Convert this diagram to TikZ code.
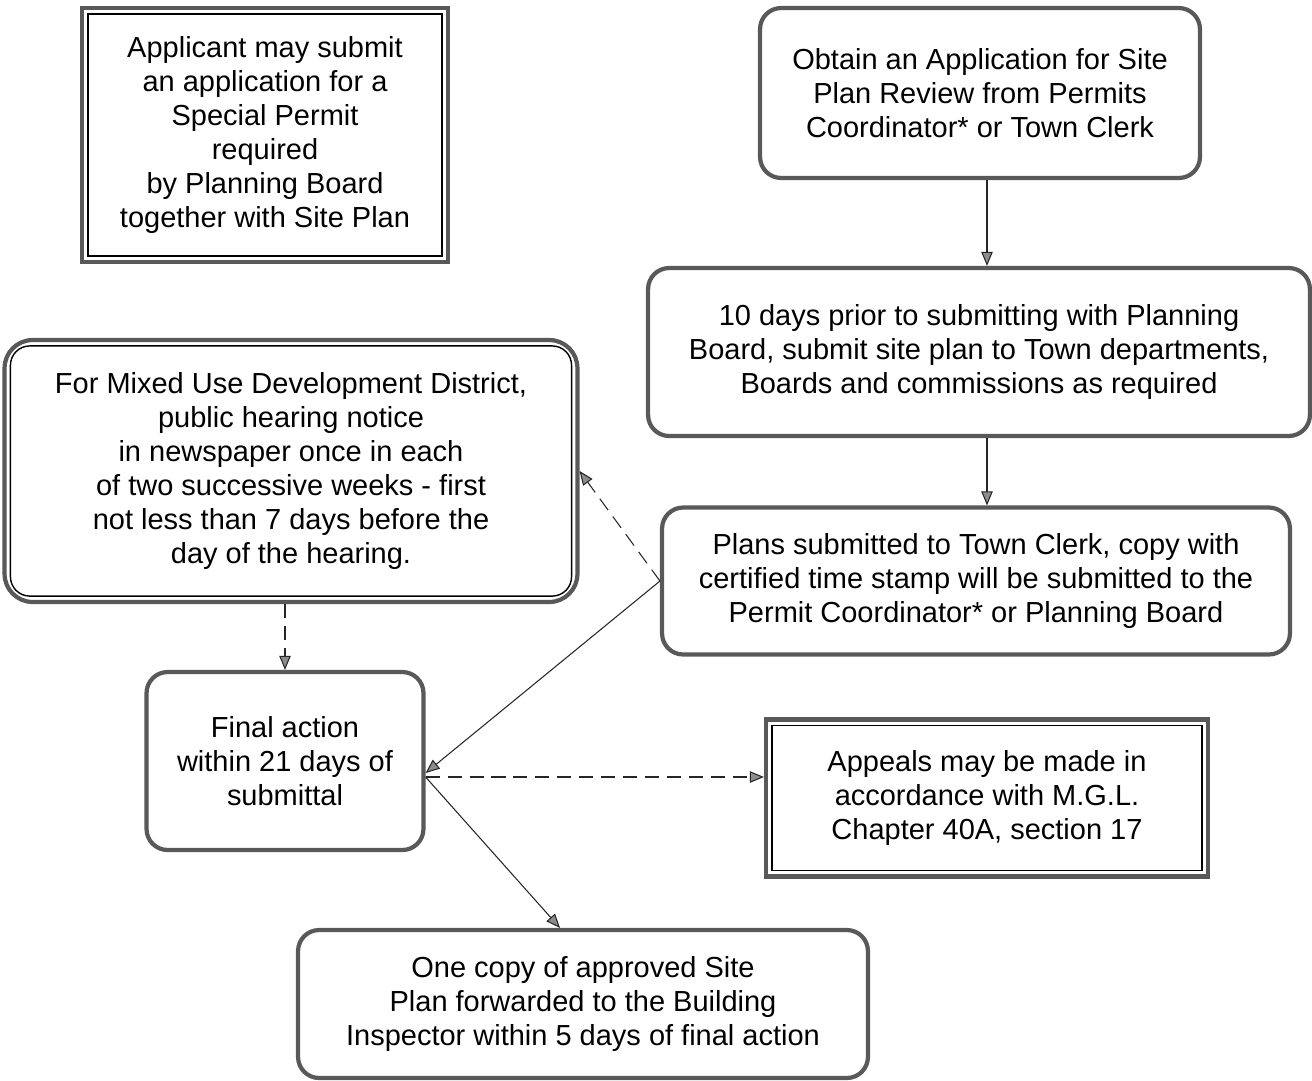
\documentclass[tikz,border=0pt]{standalone}
\usepackage{fontspec}
\setmainfont{Liberation Sans}
\usetikzlibrary{arrows.meta}

\begin{document}
\begin{tikzpicture}[x=0.02cm,y=-0.02cm]
	\tikzstyle{step_box}=[draw=black!65,line width=2.4pt,fill=white,rounded corners=12pt,align=center,inner sep=0pt,font=\fontsize{16.5}{19.3}\selectfont]
	\tikzstyle{note_box}=[step_box,sharp corners]
	\tikzstyle{inner_line}=[draw=black,line width=0.8pt]
	\tikzstyle{flow}=[-{Triangle[length=8pt,width=6.5pt,fill=black!45]},draw=black!85,line width=0.6pt]
	\tikzstyle{opt}=[flow,dash pattern=on 8pt off 4.5pt]

	\useasboundingbox (0,0) rectangle (1312,1080);

	\node [note_box,minimum width=7.32cm,minimum height=5.08cm] (applicant) at (265,135)
		{Applicant may submit\\an application for a\\Special Permit\\required\\by Planning Board\\together with Site Plan};
	\node [step_box,minimum width=8.8cm,minimum height=3.4cm] (obtain) at (980,93)
		{Obtain an Application for Site\\Plan Review from Permits\\Coordinator* or Town Clerk};
	\node [step_box,minimum width=13.24cm,minimum height=3.36cm] (prior) at (979,352)
		{10 days prior to submitting with Planning\\Board, submit site plan to Town departments,\\Boards and commissions as required};
	\node [step_box,minimum width=12.56cm,minimum height=2.94cm] (plans) at (976,581)
		{Plans submitted to Town Clerk, copy with\\certified time stamp will be submitted to the\\Permit Coordinator* or Planning Board};
	\node [step_box,rounded corners=16pt,minimum width=11.46cm,minimum height=5.24cm] (mixed) at (291,471)
		{For Mixed Use Development District,\\public hearing notice\\in newspaper once in each\\of two successive weeks - first\\not less than 7 days before the\\day of the hearing.};
	\node [step_box,minimum width=5.54cm,minimum height=3.56cm] (final) at (285,761)
		{Final action\\within 21 days of\\submittal};
	\node [note_box,minimum width=8.84cm,minimum height=3.14cm] (appeals) at (987,798)
		{Appeals may be made in\\accordance with M.G.L.\\Chapter 40A, section 17};
	\node [step_box,minimum width=11.4cm,minimum height=2.96cm] (copy) at (583,1004)
		{One copy of approved Site\\Plan forwarded to the Building\\Inspector within 5 days of final action};

	% inner lines of the framed boxes
	\draw [inner_line] ([shift={(8,-8)}]applicant.south west) rectangle ([shift={(-8,8)}]applicant.north east);
	\draw [inner_line] ([shift={(8,-8)}]appeals.south west) rectangle ([shift={(-8,8)}]appeals.north east);
	\draw [inner_line,rounded corners=11pt] ([shift={(8,-8)}]mixed.south west) rectangle ([shift={(-8,8)}]mixed.north east);

	\coordinate (down) at ([xshift=0.14cm]obtain.south);
	\coordinate (hub) at ([yshift=-0.32cm]final.east);

	\draw [flow] (down) to (down |- prior.north);
	\draw [flow] (down |- prior.south) to (down |- plans.north);
	\draw [flow] (plans.west) to ([yshift=-0.24cm]final.east);
	\draw [flow] (hub) to ([xshift=-0.46cm]copy.north);
	\draw [opt] (plans.west) to (mixed.east);
	\draw [opt] (final.north |- mixed.south) to (final.north);
	\draw [opt] (hub) to (appeals.west |- hub);
\end{tikzpicture}
\end{document}
